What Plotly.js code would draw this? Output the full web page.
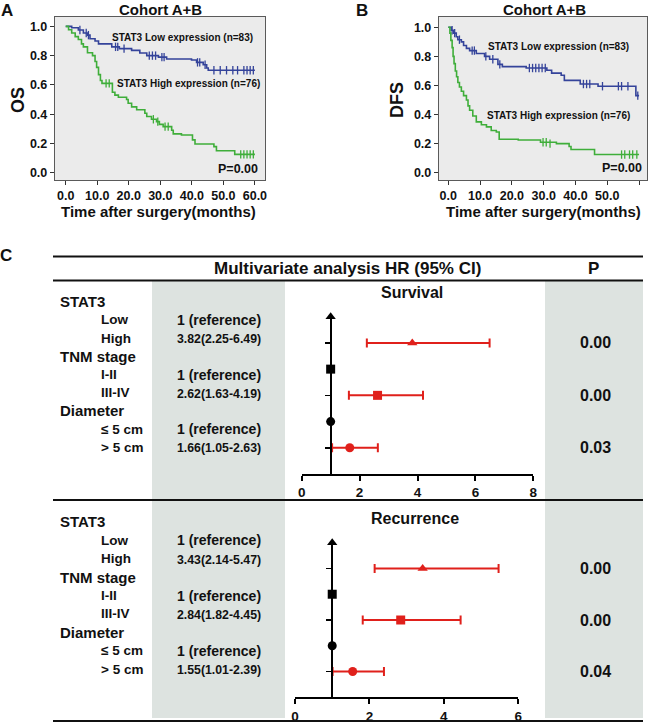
<!DOCTYPE html>
<html>
<head>
<meta charset="utf-8">
<script src="https://cdn.plot.ly/plotly-3.0.1.min.js"></script>
<style>
  html, body { margin: 0; padding: 0; background: #fff; }
  #fig { width: 650px; height: 723px; }
</style>
</head>
<body>
<div id="fig"></div>
<script>
// ---- Panel A: overall survival (months, survival fraction) ----
const osLowT = [0, 1.9, 4.0, 5.6, 6.9, 7.7, 9.3, 10.4, 14.6, 17.0, 20.9, 23.5, 25.7, 29.4, 32.0, 39.9, 41.5, 43.6, 44.7, 45.2, 60];
const osLowS = [1.0, 0.99, 0.975, 0.955, 0.94, 0.915, 0.90, 0.88, 0.86, 0.848, 0.836, 0.818, 0.80, 0.79, 0.777, 0.77, 0.754, 0.738, 0.715, 0.70, 0.70];
const osLowCensT = [4.5, 6.5, 7.2, 15.8, 16.5, 18.5, 26.5, 27.5, 28.5, 30.5, 31.2, 41.8, 42.5, 44.2, 47, 49, 51, 53, 54.5, 56.5, 57.5, 58.5, 59.5];
const osLowCensS = [0.975, 0.955, 0.94, 0.86, 0.86, 0.848, 0.80, 0.80, 0.80, 0.79, 0.79, 0.754, 0.754, 0.738, 0.70, 0.70, 0.70, 0.70, 0.70, 0.70, 0.70, 0.70, 0.70];

const osHighT = [0, 0.9, 1.9, 3.0, 4.0, 5.0, 5.6, 6.9, 8.5, 9.3, 9.8, 10.4, 11.0, 11.5, 14.8, 15.6, 16.7, 19.3, 19.8, 20.9, 22.5, 25.1, 25.7, 27.2, 28.8, 29.7, 30.9, 33.6, 34.1, 36.7, 40.2, 41.0, 47.0, 47.8, 53.6, 60];
const osHighS = [1.0, 0.977, 0.955, 0.93, 0.91, 0.88, 0.86, 0.82, 0.80, 0.76, 0.72, 0.67, 0.63, 0.61, 0.55, 0.53, 0.516, 0.50, 0.475, 0.45, 0.43, 0.406, 0.384, 0.365, 0.349, 0.33, 0.315, 0.29, 0.265, 0.258, 0.224, 0.196, 0.178, 0.15, 0.125, 0.125];
const osHighCensT = [12.8, 13.8, 27.8, 29.2, 31.5, 32.5, 55.5, 56.5, 57.5, 58.5, 59.5];
const osHighCensS = [0.61, 0.61, 0.365, 0.349, 0.315, 0.315, 0.125, 0.125, 0.125, 0.125, 0.125];

// ---- Panel B: disease-free survival ----
const dfsLowT = [0, 0.9, 1.7, 2.5, 3.0, 4.1, 4.8, 5.7, 6.7, 8.8, 11.4, 13.0, 15.6, 17.0, 24.5, 31.0, 32.5, 35.5, 36.5, 41.5, 47.1, 59.0, 60];
const dfsLowS = [1.0, 0.98, 0.96, 0.935, 0.915, 0.90, 0.875, 0.855, 0.84, 0.82, 0.80, 0.78, 0.745, 0.73, 0.72, 0.705, 0.685, 0.67, 0.635, 0.61, 0.595, 0.53, 0.53];
const dfsLowCensT = [1.2, 2.0, 3.5, 7.5, 8.2, 11.8, 14, 16.2, 25.5, 26.5, 27.5, 28.5, 29.5, 30.5, 42.5, 43.5, 44.5, 48.5, 53.5, 54.5, 56.5, 59.6];
const dfsLowCensS = [0.98, 0.96, 0.915, 0.84, 0.84, 0.80, 0.78, 0.745, 0.72, 0.72, 0.72, 0.72, 0.72, 0.72, 0.61, 0.61, 0.61, 0.595, 0.595, 0.595, 0.595, 0.53];

const dfsHighT = [0, 0.5, 0.8, 1.2, 1.5, 1.8, 2.2, 2.6, 3.0, 3.5, 4.1, 4.8, 5.7, 6.2, 6.7, 7.7, 8.8, 10.4, 12.0, 13.5, 15.1, 16.0, 22.0, 29.0, 34.0, 38.0, 38.6, 46.0, 60];
const dfsHighS = [1.0, 0.96, 0.91, 0.86, 0.80, 0.75, 0.70, 0.66, 0.62, 0.59, 0.56, 0.53, 0.50, 0.46, 0.43, 0.39, 0.35, 0.33, 0.315, 0.29, 0.28, 0.23, 0.225, 0.21, 0.20, 0.18, 0.16, 0.125, 0.125];
const dfsHighCensT = [29.8, 30.8, 32.0, 54.5, 55.5, 57, 58, 59.3];
const dfsHighCensS = [0.21, 0.21, 0.20, 0.125, 0.125, 0.125, 0.125, 0.125];

// ---- Panel C: multivariate table ----
const rowLabels = ['STAT3', 'Low', 'High', 'TNM stage', 'I-II', 'III-IV', 'Diameter', '≤ 5 cm', '> 5 cm'];
const isHeader = [true, false, false, true, false, false, true, false, false];
const survHR = [3.82, 2.62, 1.66];
const survLo = [2.25, 1.63, 1.05];
const survHi = [6.49, 4.19, 2.63];
const survP = ['0.00', '0.00', '0.03'];
const recHR = [3.43, 2.84, 1.55];
const recLo = [2.14, 1.82, 1.01];
const recHi = [5.47, 4.45, 2.39];
const recP = ['0.00', '0.00', '0.04'];
const refRows = [6, 4, 2];   // HR = 1 reference rows in the forest plot
const hrRows = [5, 3, 1];
const rowSymbols = ['triangle-up', 'square', 'circle'];

const BLUE = '#34439a', GREEN = '#3fae3a', RED = '#e0201b', PANEL = '#dde3e0';
const FONT = 'Liberation Sans, Arial, Helvetica, sans-serif';
const W = 650, H = 723;
const px = x => x / W;
const py = y => 1 - y / H;

function km(t, s, color, xa, ya) {
  return { x: t, y: s, xaxis: xa, yaxis: ya, mode: 'lines', line: { shape: 'hv', color: color, width: 1.6 }, hoverinfo: 'skip' };
}
function cens(t, s, color, xa, ya) {
  return { x: t, y: s, xaxis: xa, yaxis: ya, mode: 'markers', cliponaxis: false,
    marker: { symbol: 'line-ns', size: 6, line: { color: color, width: 1.3 } }, hoverinfo: 'skip' };
}
function forest(hr, lo, hi, xa, ya) {
  return [
    { x: refRows.map(() => 1), y: refRows, xaxis: xa, yaxis: ya, mode: 'markers', cliponaxis: false,
      marker: { symbol: rowSymbols, size: 9, color: '#000' } },
    { x: hr, y: hrRows, xaxis: xa, yaxis: ya, mode: 'markers', cliponaxis: false,
      marker: { symbol: rowSymbols, size: 9, color: RED },
      error_x: { type: 'data', symmetric: false, array: hi.map((h, i) => h - hr[i]),
        arrayminus: lo.map((l, i) => hr[i] - l), color: RED, thickness: 2, width: 4.5 } }
  ];
}

const traces = [
  km(osLowT, osLowS, BLUE, 'x', 'y'), cens(osLowCensT, osLowCensS, BLUE, 'x', 'y'),
  km(osHighT, osHighS, GREEN, 'x', 'y'), cens(osHighCensT, osHighCensS, GREEN, 'x', 'y'),
  km(dfsLowT, dfsLowS, BLUE, 'x2', 'y2'), cens(dfsLowCensT, dfsLowCensS, BLUE, 'x2', 'y2'),
  km(dfsHighT, dfsHighS, GREEN, 'x2', 'y2'), cens(dfsHighCensT, dfsHighCensS, GREEN, 'x2', 'y2'),
  ...forest(survHR, survLo, survHi, 'x3', 'y3'),
  ...forest(recHR, recLo, recHi, 'x4', 'y4')
];

const kmX = (dom, range, anchor) => ({
  domain: dom, range: range, anchor: anchor, tickmode: 'linear', tick0: 0, dtick: 10, tickformat: '.1f',
  showline: true, mirror: true, linecolor: '#5a5a5a', linewidth: 1.2, ticks: 'outside', ticklen: 4,
  tickcolor: '#333', showgrid: false, zeroline: false, tickfont: { size: 12.5, weight: 'bold' }
});
const kmY = (dom, range, anchor) => ({
  domain: dom, range: range, anchor: anchor, tickmode: 'linear', tick0: 0, dtick: 0.2, tickformat: '.1f',
  showline: true, mirror: true, linecolor: '#5a5a5a', linewidth: 1.2, ticks: 'outside', ticklen: 4,
  tickcolor: '#333', showgrid: false, zeroline: false, tickfont: { size: 12.5, weight: 'bold' }
});

// forest axes: y axis line sits at HR = 1
const fx3 = [px(301.7), px(533.3)], fx4 = [px(295), px(518.3)];
const atOne = (dom, range) => dom[0] + (1 - range[0]) / (range[1] - range[0]) * (dom[1] - dom[0]);
const forX = (dom, range, anchor) => ({
  domain: dom, range: range, anchor: anchor, tickmode: 'linear', tick0: 0, dtick: 2,
  showline: true, linecolor: '#000', linewidth: 2, ticks: 'outside', ticklen: 5, tickwidth: 2, tickcolor: '#000',
  showgrid: false, zeroline: false, tickfont: { size: 13.5, weight: 'bold' }
});
const forY = (dom, xdom, xrange) => ({
  domain: dom, range: [0, 6], anchor: 'free', position: atOne(xdom, xrange),
  showline: true, linecolor: '#000', linewidth: 2, ticks: 'outside', ticklen: 5, tickwidth: 1.5, tickcolor: '#000',
  tickmode: 'array', tickvals: hrRows, showticklabels: false, showgrid: false, zeroline: false
});

const annotations = [];
function ann(text, x, y, size, extra) {
  annotations.push(Object.assign({ text: text, x: x, y: y, xref: 'paper', yref: 'paper', showarrow: false,
    xanchor: 'center', yanchor: 'middle', font: { family: FONT, size: size, color: '#111', weight: 'bold' } }, extra || {}));
}

// panel letters and KM texts
const top0 = { yanchor: 'top', borderpad: 0 };
ann('A', px(7), py(0), 17, top0);
ann('B', px(362), py(0), 17, top0);
ann('C', px(6), py(255), 17);
ann('Cohort A+B', px(160), py(0), 15, top0);
ann('Cohort A+B', px(544), py(0), 15, top0);
ann('OS', px(18), py(100), 18, { textangle: -90 });
ann('DFS', px(397), py(100), 18, { textangle: -90 });
ann('Time after surgery(months)', px(158), py(211), 15);
ann('Time after surgery(months)', px(543), py(211), 15);
ann('STAT3 Low expression (n=83)', px(182), py(37), 10);
ann('STAT3 High expression (n=76)', px(188), py(83), 10);
ann('P=0.00', px(260), py(169), 12.5, { xanchor: 'right' });
ann('STAT3 Low expression (n=83)', px(558), py(46), 10);
ann('STAT3 High expression (n=76)', px(558), py(116), 10);
ann('P=0.00', px(644), py(168), 12.5, { xanchor: 'right' });

// table header
ann('Multivariate analysis HR (95% CI)', px(347), py(268), 17);
ann('P', px(593), py(268), 17);
ann('Survival', px(412), py(292), 16);
ann('Recurrence', px(415), py(518), 16);

function hrText(hr, lo, hi) {
  return hr.toFixed(2) + '(' + lo.toFixed(2) + '-' + hi.toFixed(2) + ')';
}
function section(top, step, hr, lo, hi, pv, ya) {
  rowLabels.forEach((lab, i) => {
    const y = top + i * step;
    if (isHeader[i]) ann(lab, px(58), py(y), 15, { xanchor: 'left' });
    else ann(lab, px(99), py(y), 13.5, { xanchor: 'left' });
  });
  for (let k = 0; k < 3; k++) {
    const yRef = top + (3 * k + 1) * step, yHR = top + (3 * k + 2) * step;
    ann('1 (reference)', px(219), py(yRef), 14);
    ann(hrText(hr[k], lo[k], hi[k]), px(219), py(yHR + 1), 12.3);
    ann(pv[k], px(595), hrRows[k], 16, { yref: ya });
  }
}
section(301.7, 18.2, survHR, survLo, survHi, survP, 'y3');
section(521.7, 18.45, recHR, recLo, recHi, recP, 'y4');

const shapes = [
  // grey plot backgrounds for the KM panels
  { type: 'rect', xref: 'x domain', yref: 'y domain', x0: 0, x1: 1, y0: 0, y1: 1, fillcolor: '#ebebeb', line: { width: 0 }, layer: 'below' },
  { type: 'rect', xref: 'x2 domain', yref: 'y2 domain', x0: 0, x1: 1, y0: 0, y1: 1, fillcolor: '#ebebeb', line: { width: 0 }, layer: 'below' },
  // shaded table columns
  { type: 'rect', xref: 'paper', yref: 'paper', x0: px(152), x1: px(285), y0: py(718), y1: py(281), fillcolor: PANEL, line: { width: 0 }, layer: 'below' },
  { type: 'rect', xref: 'paper', yref: 'paper', x0: px(545), x1: px(643), y0: py(718), y1: py(281), fillcolor: PANEL, line: { width: 0 }, layer: 'below' }
];
[256.5, 280.5, 500, 721].forEach(y => shapes.push({ type: 'line', xref: 'paper', yref: 'paper',
  x0: px(53), x1: px(643), y0: py(y), y1: py(y), line: { color: '#111', width: 2.2 } }));

const layout = {
  width: W, height: H, margin: { l: 0, r: 0, t: 0, b: 0 },
  paper_bgcolor: '#fff', plot_bgcolor: 'rgba(0,0,0,0)', showlegend: false,
  font: { family: FONT, size: 12, color: '#111', weight: 'bold' },
  xaxis: kmX([px(55), px(265)], [-3.4, 63.2], 'y'),
  yaxis: kmY([py(180), py(16.7)], [-0.05, 1.066], 'x'),
  xaxis2: kmX([px(439), px(647)], [-2.93, 62.5], 'y2'),
  yaxis2: kmY([py(180), py(16.7)], [-0.05, 1.073], 'x2'),
  xaxis3: forX(fx3, [0, 8], 'y3'),
  yaxis3: forY([py(474), py(316.7)], fx3, [0, 8]),
  xaxis4: forX(fx4, [0, 6], 'y4'),
  yaxis4: forY([py(697.3), py(542.7)], fx4, [0, 6]),
  shapes: shapes,
  annotations: annotations
};

Plotly.newPlot('fig', traces, layout, { displayModeBar: false, staticPlot: true });
</script>
</body>
</html>
